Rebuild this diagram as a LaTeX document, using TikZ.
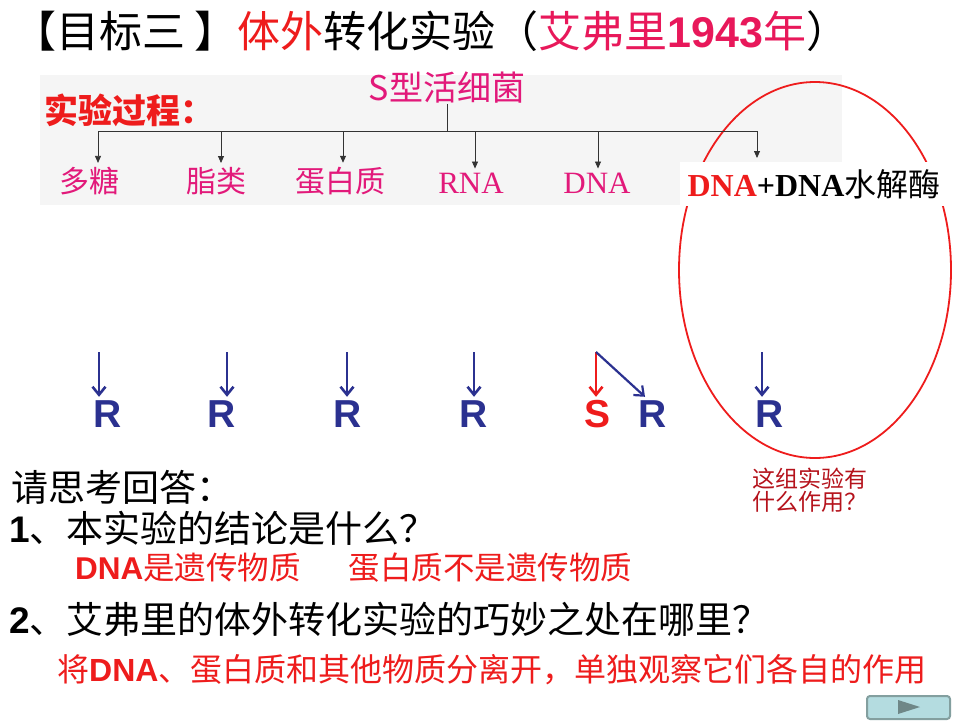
\documentclass[tikz,border=0pt]{standalone}
\usepackage{fontspec}
\setmainfont{Noto Sans CJK SC}
\newfontfamily\latf{Liberation Sans}
\newfontfamily\romf{Liberation Serif}
\usetikzlibrary{arrows.meta, positioning}

\definecolor{navy}{HTML}{2B3190}
\definecolor{rose}{HTML}{E2197A}
\definecolor{titlepink}{HTML}{E8185A}
\definecolor{labred}{HTML}{EE1C1C}
\definecolor{darkred}{HTML}{B5121B}
\definecolor{btnfill}{HTML}{B4DCE0}
\definecolor{btnedge}{HTML}{839F9F}
\newcommand{\pxsize}[1]{\fontsize{#1}{#1}\selectfont}

\begin{document}
\begin{tikzpicture}[
    x=1pt, y=-1pt,
    sub/.style={text=rose, font=\pxsize{30}, inner sep=0pt},
    tree/.style={-{Triangle[length=7pt, width=6pt]}, black!80, line width=0.8pt},
    res/.style={font=\latf\bfseries\pxsize{39}, text=navy, inner sep=2pt,
        text height=28pt, text depth=0pt},
    down/.style={-{Straight Barb[length=8pt, width=13pt]}, navy, line width=2.6pt},
    ask/.style={anchor=west, font=\pxsize{37}, inner sep=0pt},
    ans/.style={anchor=west, font=\pxsize{31.5}, text=labred, inner sep=0pt}
]
    \useasboundingbox (0,0) rectangle (960,720);
    \fill[white] (0,0) rectangle (960,720);

    % Title
    \node[anchor=west, font=\pxsize{43}, inner sep=0pt] (title) at (13,31)
        {【目标三 】{\color{labred}体外}转化实验（{\color{titlepink}艾弗里{\latf\bfseries 1943}年}）};

    % pasted tree panel
    \fill[black!4] (40,75) rectangle (842,205);
    \node[anchor=west, text=labred, font=\bfseries\pxsize{34}, inner sep=0pt] (proc) at (44,110) {实验过程：};
    \node[sub, font=\pxsize{34}] (sbac) at (447,88) {S型活细菌};

    % Branch points on the bar
    \coordinate (hub) at (447,131);
    \coordinate (b1) at ( 98,131);
    \coordinate (b2) at (221,131);
    \coordinate (b3) at (343,131);
    \coordinate (b4) at (475,131);
    \coordinate (b5) at (598,131);
    \coordinate (b6) at (757,131);

    % Fractions
    \node[sub] (m1) at ( 89,181) {多糖};
    \node[sub] (m2) at (216,181) {脂类};
    \node[sub] (m3) at (340,181) {蛋白质};
    \node[sub, font=\romf\pxsize{31}] (m4) at (471,183) {RNA};
    \node[sub, font=\romf\pxsize{31}] (m5) at (597,183) {DNA};

    % Circled group
    \draw[labred, line width=1.8pt] (815,270) ellipse [x radius=136pt, y radius=188pt];
    \node[fill=white, minimum width=268pt, minimum height=44pt, inner sep=0pt,
          font=\pxsize{32}] (m6) at (814,184)
        {{\romf\bfseries{\color{labred}DNA}+DNA}水解酶};

    \draw[black!80, line width=0.8pt] (sbac) -- (hub);
    \draw[black!80, line width=0.8pt] (b1) -- (b6);
    \foreach \i in {1,...,5}
        \draw[tree, shorten >=4pt] (b\i) -- (b\i |- m\i.north);
    \draw[tree] (b6) -- (757,158);

    % Outcomes
    \coordinate (t1) at ( 99,352);
    \coordinate (t2) at (227,352);
    \coordinate (t3) at (347,352);
    \coordinate (t4) at (474,352);
    \coordinate (t5) at (596,352);
    \coordinate (t6) at (762,352);

    \node[res] (r1) at (108,413) {R};
    \node[res] (r2) at (222,413) {R};
    \node[res] (r3) at (348,413) {R};
    \node[res] (r4) at (474,413) {R};
    \node[res, text=labred] (r5) at (597,413) {S};
    \node[res] (r5b) at (653,413) {R};
    \node[res] (r6) at (770,413) {R};

    \foreach \i in {1,2,3,4,6}
        \draw[down] (t\i) -- (t\i |- r\i.north);
    \draw[down, labred] (t5) -- (t5 |- r5.north);
    \draw[down, line width=2.2pt] (t5) -- ([xshift=-8pt]r5b.north);

    \node[anchor=west, text=darkred, font=\pxsize{23}, align=left, inner sep=0pt]
        (note) at (752,490) {\fontsize{23}{28}\selectfont 这组实验有\\什么作用？};

    % Questions and answers
    \node[ask] (q0) at (11,487) {请思考回答：};
    \node[ask] (q1) at (9,528) {{\latf\bfseries 1}、本实验的结论是什么？};
    \node[ans] (a1) at (75,568) {{\latf\bfseries DNA}是遗传物质\hspace{48pt}蛋白质不是遗传物质};
    \node[ask] (q2) at (9,619) {{\latf\bfseries 2}、艾弗里的体外转化实验的巧妙之处在哪里？};
    \node[ans, font=\pxsize{32}] (a2) at (57,670) {将{\latf\bfseries DNA}、蛋白质和其他物质分离开，单独观察它们各自的作用};

    % Next button
    \draw[btnedge, fill=btnfill, line width=2pt, rounded corners=3pt] (867,696) rectangle (950,719);
    \fill[btnedge!85!black] (898,700) -- (898,714) -- (920,707) -- cycle;
\end{tikzpicture}
\end{document}
